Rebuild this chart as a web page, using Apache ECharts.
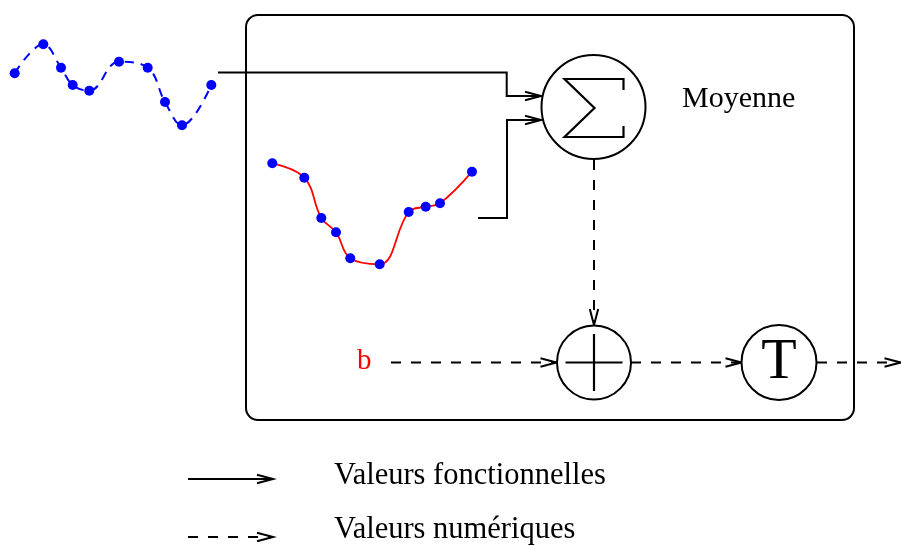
<!DOCTYPE html>
<html>
<head>
<meta charset="utf-8">
<script src="https://cdn.jsdelivr.net/npm/echarts@6/dist/echarts.min.js"></script>
<style>
html,body{margin:0;padding:0;background:#fff;}
#c{width:901px;height:546px;}
</style>
</head>
<body>
<div id="c"></div>
<script>
// ---- data ----
// input functional signal (blue dashed curve with points)
const inputSignal = [[14.7,73.3],[43.3,44.3],[61,67.7],[72.7,85],[89.3,90.7],[119,61.7],[147.7,67.7],[165,102],[182,125.3],[211.3,85]];
// mean functional (red curve with blue points)
const meanSignal = [[272.3,163.3],[304.3,177.7],[321.3,218],[336,232.3],[350.3,258.3],[379.7,264.3],[408.7,212],[425.7,206.7],[440,203.3],[472,171.7]];
// frame of the neuron block
const frameBox = [246,15,854,420];
// operator nodes: name, center x, center y, radius
const nodeNames = ['sigma','plus','T'];
const nodeX = [593.5,594,779];
const nodeY = [107,362.5,362.5];
const nodeR = [52,37,37.5];
// functional (solid) connections
const solidLinks = [
  [[218,72.5],[506.7,72.5],[506.7,96],[541,96]],
  [[478,218],[507,218],[507,120],[541,120]],
  [[188,479],[273,479]]
];
// numerical (dashed) connections
const dashedLinks = [
  [[594,160],[594,325]],
  [[391,362.5],[556.5,362.5]],
  [[631,362.5],[741.5,362.5]],
  [[817,362.5],[900.5,362.5]],
  [[188,537],[273,537]]
];
// glyph shapes relative to node centers
const sigmaGlyph = [[30,-17],[30,-28],[-29,-28],[1,1],[-29,30],[30,30],[30,19]];
const plusGlyph = [[[-28.5,0],[28.5,0]],[[0,-28.5],[0,28.5]]];
// texts
const labelTexts = ['Moyenne','b','T','Valeurs fonctionnelles','Valeurs numériques'];
const labelX = [682,357,779,334,334];
const labelY = [99.5,361,363,476,530];
const labelSize = [30,29,58,30.5,30.5];
const labelColor = ['#000','#ff0000','#000','#000','#000'];
const labelAlign = ['left','left','center','left','left'];

// ---- build ----
function arrowHead(pts, L, Wd){
  const a = pts[pts.length-2], b = pts[pts.length-1];
  const dx = b[0]-a[0], dy = b[1]-a[1];
  const len = Math.hypot(dx,dy);
  const ux = dx/len, uy = dy/len;
  return [[b[0]-L*ux - Wd*uy, b[1]-L*uy + Wd*ux], b, [b[0]-L*ux + Wd*uy, b[1]-L*uy - Wd*ux]];
}
const heads = solidLinks.concat(dashedLinks).map(p => ({coords: arrowHead(p,16,4.2)}));

const glyphLines = [];
const si = nodeNames.indexOf('sigma');
glyphLines.push({coords: sigmaGlyph.map(o => [nodeX[si]+o[0], nodeY[si]+o[1]])});
const pi = nodeNames.indexOf('plus');
plusGlyph.forEach(seg => glyphLines.push({coords: seg.map(o => [nodeX[pi]+o[0], nodeY[pi]+o[1]])}));

const serif = '"Liberation Serif","DejaVu Serif",serif';

const chart = echarts.init(document.getElementById('c'), null, {renderer:'canvas'});
chart.setOption({
  animation: false,
  backgroundColor: '#fff',
  grid: {left:0,right:0,top:0,bottom:0},
  xAxis: {type:'value', min:0, max:901, show:false},
  yAxis: {type:'value', min:0, max:546, inverse:true, show:false},
  series: [
    {
      type:'custom', name:'frame', clip:false, z:1,
      data:[frameBox],
      encode:{x:[0,2], y:[1,3]},
      renderItem:function(params, api){
        const p0 = api.coord([api.value(0), api.value(1)]);
        const p1 = api.coord([api.value(2), api.value(3)]);
        return {type:'rect', shape:{x:p0[0], y:p0[1], width:p1[0]-p0[0], height:p1[1]-p0[1], r:12},
          style:{fill:'none', stroke:'#000', lineWidth:2}};
      }
    },
    {
      type:'lines', name:'solid', coordinateSystem:'cartesian2d', polyline:true, z:3,
      data: solidLinks.map(p => ({coords:p})),
      lineStyle:{color:'#000', width:2, type:'solid', opacity:1},
      symbol:'none'
    },
    {
      type:'lines', name:'dashed', coordinateSystem:'cartesian2d', polyline:true, z:3,
      data: dashedLinks.map(p => ({coords:p})),
      lineStyle:{color:'#000', width:2, type:[10,10], opacity:1},
      symbol:'none'
    },
    {
      type:'lines', name:'heads', coordinateSystem:'cartesian2d', polyline:true, z:3,
      data: heads,
      lineStyle:{color:'#000', width:2, type:'solid', opacity:1},
      symbol:'none'
    },
    {
      type:'scatter', name:'nodes', z:4,
      data: nodeNames.map((n,i) => ({name:n, value:[nodeX[i],nodeY[i]], symbolSize:2*nodeR[i]})),
      symbol:'circle',
      itemStyle:{color:'#fff', borderColor:'#000', borderWidth:2, opacity:1},
      emphasis:{disabled:true}
    },
    {
      type:'lines', name:'glyphs', coordinateSystem:'cartesian2d', polyline:true, z:5,
      data: glyphLines,
      lineStyle:{color:'#000', width:2.2, type:'solid', opacity:1},
      symbol:'none'
    },
    {
      type:'line', name:'input', z:6,
      data: inputSignal,
      smooth:0.4,
      symbol:'circle', symbolSize:10, showSymbol:true,
      lineStyle:{color:'#0000ff', width:2, type:[9,7]},
      itemStyle:{color:'#0000ff'}
    },
    {
      type:'line', name:'mean', z:6,
      data: meanSignal,
      smooth:0.4,
      symbol:'circle', symbolSize:10, showSymbol:true,
      lineStyle:{color:'#ff0000', width:1.8},
      itemStyle:{color:'#0000ff'}
    },
    {
      type:'custom', name:'labels', clip:false, z:7,
      data: labelTexts.map((t,i) => [labelX[i], labelY[i]]),
      renderItem:function(params, api){
        const i = params.dataIndex;
        const p = api.coord([api.value(0), api.value(1)]);
        return {type:'text', x:p[0], y:p[1],
          style:{text:labelTexts[i], fill:labelColor[i], font: labelSize[i]+'px '+serif,
            align:labelAlign[i], verticalAlign:'middle'}};
      }
    }
  ]
});
</script>
</body>
</html>
